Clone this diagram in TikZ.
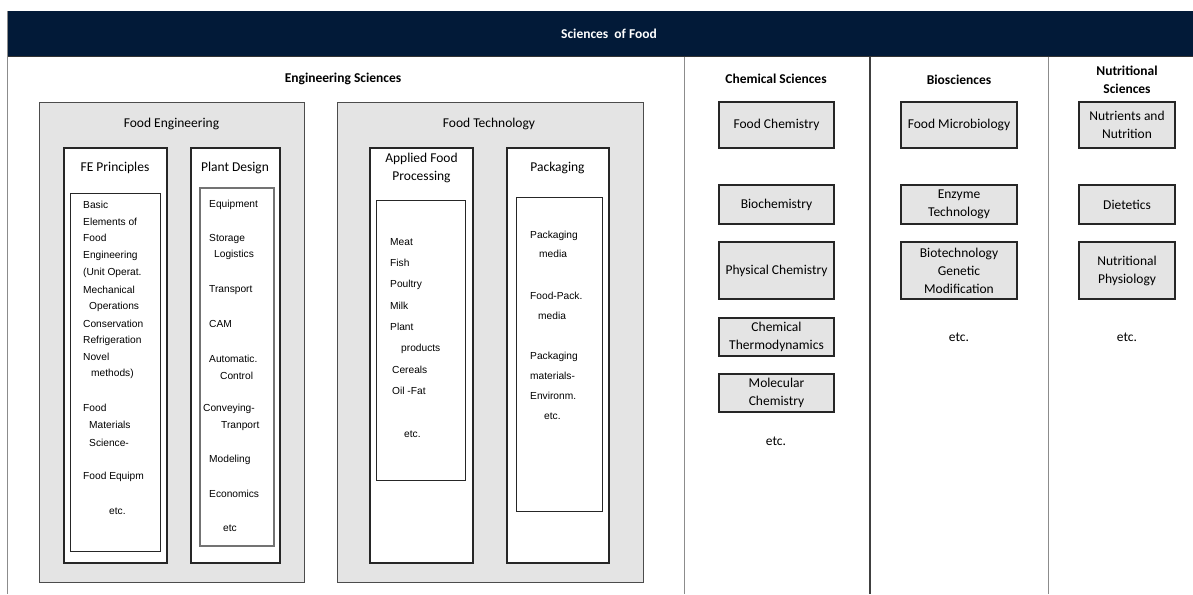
\documentclass[tikz,border=0pt]{standalone}
\usepackage{fontspec}
\setmainfont{Carlito}
\newfontfamily\listfont{Liberation Sans}
\usetikzlibrary{positioning}

\definecolor{navy}{RGB}{2,26,56}
\definecolor{panelgray}{RGB}{228,228,228}

\begin{document}
\begin{tikzpicture}[x=1pt, y=-1pt,
    gbox/.style={draw=black!70, fill=panelgray, line width=0.9pt, inner sep=0pt},
    wbox/.style={draw=black!85, fill=white, line width=1.2pt, inner sep=0pt},
    lbox/.style={draw=black!85, line width=0.9pt, inner sep=0pt},
    cbox/.style={draw=black!85, fill=panelgray, line width=1.3pt, inner sep=0pt,
      align=center, font=\fontsize{13.5}{18}\selectfont},
    ttl/.style={inner sep=0pt, align=center, font=\fontsize{13.5}{18}\selectfont},
    head/.style={ttl, font=\fontsize{13.5}{18}\selectfont\bfseries},
    item/.style={anchor=west, inner sep=0pt, font=\listfont\fontsize{10.2}{12}\selectfont},
    sep/.style={draw=black!45, line width=1pt}]
  \useasboundingbox (0,0) rectangle (1193,594);

  % Header bar
  \fill[navy] (7,11) rectangle (1193,57);
  \draw[black!80, line width=1pt] (7,57) -- (1193,57);
  \node[head, text=white] (title) at (609,34) {Sciences~~of Food};

  % Column separators
  \draw[sep] (7,11) -- (7,594);
  \draw[sep] (684,57) -- (684,594);
  \draw[sep, draw=black!75, line width=1.6pt] (870,57) -- (870,594);
  \draw[sep] (1048,57) -- (1048,594);

  % Column headings
  \node[head] (eng) at (343,79) {Engineering Sciences};
  \node[head] (chem) at (776,79) {Chemical Sciences};
  \node[head] (bio) at (959,80) {Biosciences};
  \node[head] (nut) at (1127,80) {Nutritional\\Sciences};

  % Engineering panels
  \node[gbox, minimum width=265, minimum height=480] (fe) at (171.5,342) {};
  \node[gbox, minimum width=306, minimum height=480] (ft) at (490,342) {};
  \node[ttl] (fe-t) at (171.5,124) {Food Engineering};
  \node[ttl] (ft-t) at (489,124) {Food Technology};

  \node[wbox, minimum width=103, minimum height=415] (fep) at (115.5,355.5) {};
  \node[wbox, minimum width=89, minimum height=415] (pd) at (235.5,355.5) {};
  \node[wbox, minimum width=103, minimum height=415] (afp) at (421.5,355.5) {};
  \node[wbox, minimum width=102, minimum height=415] (pk) at (558,355.5) {};
  \node[ttl] (fep-t) at (115,168) {FE Principles};
  \node[ttl] (pd-t) at (235,168) {Plant Design};
  \node[ttl] (afp-t) at (421.5,167.5) {Applied Food\\Processing};
  \node[ttl] (pk-t) at (557.5,168) {Packaging};

  \node[lbox, minimum width=90, minimum height=358] (fepl) at (115,372) {};
  \node[lbox, draw=black!55, line width=1.1pt, minimum width=74, minimum height=358] (pdl) at (237,367) {};
  \node[lbox, minimum width=89, minimum height=280] (afpl) at (420.5,340) {};
  \node[lbox, minimum width=86, minimum height=314] (pkl) at (559,354) {};

  % List entries
  \foreach \x/\y/\t [count=\i] in {83/205/Basic, 83/222/Elements of, 83/238/Food,
      83/256/Engineering, 83/273/(Unit Operat., 83/290/Mechanical, 89/307/Operations,
      83/324/Conservation, 83/341/Refrigeration, 83/357/Novel, 91/374/methods),
      83/408/Food, 89/425/Materials, 89/443/Science-, 83/477/Food Equipm, 109/511/etc.}
    \node[item] (fe-\i) at (\x,\y) {\t};

  \foreach \x/\y/\t [count=\i] in {209/205/Equipment, 209/239/Storage, 214/255/Logistics,
      209/290/Transport, 209/324/CAM, 209/359/Automatic., 220/376/Control,
      203/409/Conveying-, 221/426/Tranport, 209/460/Modeling, 209/494/Economics, 223/528/etc}
    \node[item] (pd-\i) at (\x,\y) {\t};

  \foreach \x/\y/\t [count=\i] in {390/242/Meat, 390/263/Fish, 390/285/Poultry, 390/306/Milk,
      390/327/Plant, 401/349/products, 392/370/Cereals, 392/391/Oil -Fat, 404/434/etc.}
    \node[item] (afp-\i) at (\x,\y) {\t};

  \foreach \x/\y/\t [count=\i] in {530/236/Packaging, 539/254/media, 530/296/Food-Pack.,
      538/316/media, 530/357/Packaging, 530/376/materials-, 530/396/Environm., 544/416/etc.}
    \node[item] (pk-\i) at (\x,\y) {\t};

  % Chemical sciences
  \node[cbox, minimum width=115, minimum height=46] (chem-1) at (776.5,125) {Food Chemistry};
  \node[cbox, minimum width=115, minimum height=39] (chem-2) at (776.5,204.5) {Biochemistry};
  \node[cbox, minimum width=115, minimum height=57] (chem-3) at (776.5,270.5) {Physical Chemistry};
  \node[cbox, minimum width=115, minimum height=38] (chem-4) at (776.5,337) {Chemical\\Thermodynamics};
  \node[cbox, minimum width=115, minimum height=38] (chem-5) at (776.5,393) {Molecular\\Chemistry};
  \node[ttl] (chem-etc) at (776,441) {etc.};

  % Biosciences
  \node[cbox, minimum width=116, minimum height=46] (bio-1) at (959,125) {Food Microbiology};
  \node[cbox, minimum width=116, minimum height=39] (bio-2) at (959,204.5) {Enzyme\\Technology};
  \node[cbox, minimum width=116, minimum height=57] (bio-3) at (959,270.5) {Biotechnology\\Genetic\\Modification};
  \node[ttl] (bio-etc) at (959,337) {etc.};

  % Nutritional sciences
  \node[cbox, minimum width=96, minimum height=46] (nut-1) at (1127,125) {Nutrients and\\Nutrition};
  \node[cbox, minimum width=96, minimum height=39] (nut-2) at (1127,204.5) {Dietetics};
  \node[cbox, minimum width=96, minimum height=57] (nut-3) at (1127,270.5) {Nutritional\\Physiology};
  \node[ttl] (nut-etc) at (1127,337) {etc.};
\end{tikzpicture}
\end{document}
